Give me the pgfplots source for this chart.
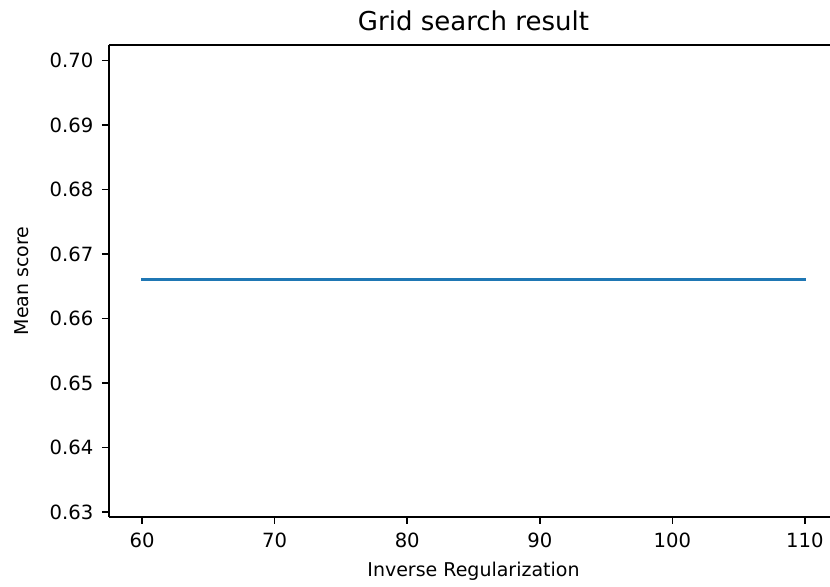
\documentclass[border=0pt]{standalone}
\usepackage{fontspec}
\setmainfont{DejaVu Sans}
\usepackage{pgfplots}
\pgfplotsset{compat=1.18}
\definecolor{c0}{HTML}{1F77B4}
\begin{document}
\begin{tikzpicture}
\useasboundingbox (-54.5pt,-34.65pt) rectangle (360.5pt,258.35pt);
\clip (-54.5pt,-34.65pt) rectangle (360.5pt,258.35pt);
\begin{axis}[
  at={(0pt,0pt)}, anchor=south west,
  scale only axis,
  width=364.5pt, height=235.85pt,
  xmin=57.5, xmax=112.5,
  ymin=0.6293, ymax=0.7024,
  axis lines*=left,
  clip=false,
  xtick={60,70,80,90,100,110},
  ytick={0.63,0.64,0.65,0.66,0.67,0.68,0.69,0.70},
  yticklabel style={/tikz/xshift=-0.8pt, /pgf/number format/.cd, fixed, fixed zerofill, precision=2},
  /pgf/number format/assume math mode=true,
  tick align=outside,
  tick pos=left,
  major tick length=3.5pt,
  tick style={black, line width=0.8pt},
  axis line style={black, line width=0.8pt},
  tick label style={font=\fontsize{9.8}{11}\selectfont},
  xticklabel style={/tikz/yshift=-1pt},
  label style={font=\fontsize{9.5}{11}\selectfont},
  every axis title/.style={font=\fontsize{13}{15}\selectfont, at={(axis description cs:0.5,1)}, anchor=base, yshift=7pt},
  title={Grid search result},
  xlabel={Inverse Regularization},
  ylabel={Mean score},
  xlabel style={at={(axis description cs:0.5,-0.1268)}, anchor=base},
  ylabel style={at={(axis description cs:-0.1104,0.5)}, anchor=base, rotate=0},
]
\addplot[c0, line width=1.5pt, line cap=rect] coordinates {
  (60,0.6661) (70,0.6661) (80,0.6661) (90,0.6661) (100,0.6661) (110,0.6661)
};
\draw[black, line width=0.8pt] (rel axis cs:0,1) -- (rel axis cs:1,1);
\end{axis}
\end{tikzpicture}
\end{document}
